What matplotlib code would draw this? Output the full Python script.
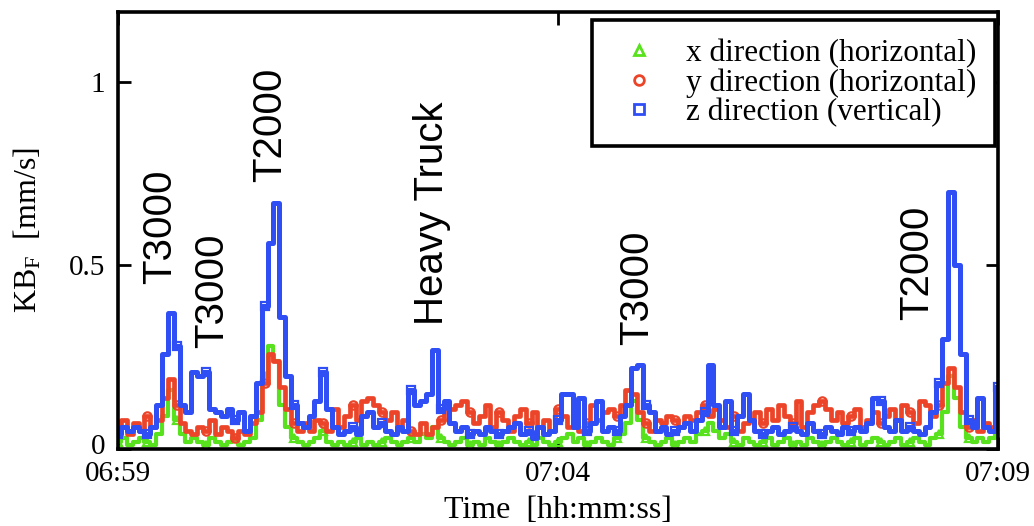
import numpy as np
import matplotlib
matplotlib.use("Agg")
import matplotlib.pyplot as plt
from matplotlib.lines import Line2D
from matplotlib.transforms import ScaledTranslation

# ---- data: KB_F velocity (mm/s), one sample every 4 s from 06:59:00 ----
step_s = 4
kb_x = [0.02, 0.03, 0.01, 0.02, 0.03, 0.02, 0.01, 0.04, 0.09, 0.16, 0.08, 0.04,
        0.02, 0.03, 0.02, 0.01, 0.03, 0.02, 0.01, 0.02, 0.03, 0.01, 0.02, 0.03,
        0.08, 0.20, 0.28, 0.24, 0.12, 0.06, 0.03, 0.02, 0.01, 0.02, 0.03, 0.05,
        0.02, 0.01, 0.02, 0.01, 0.02, 0.03, 0.01, 0.02, 0.01, 0.02, 0.03, 0.02,
        0.01, 0.02, 0.03, 0.02, 0.04, 0.03, 0.06, 0.03, 0.02, 0.01, 0.02, 0.03,
        0.01, 0.02, 0.01, 0.03, 0.02, 0.01, 0.02, 0.03, 0.02, 0.01, 0.02, 0.01,
        0.03, 0.02, 0.01, 0.02, 0.03, 0.04, 0.02, 0.03, 0.01, 0.02, 0.03, 0.02,
        0.01, 0.03, 0.04, 0.07, 0.13, 0.08, 0.03, 0.02, 0.01, 0.02, 0.03, 0.01,
        0.02, 0.03, 0.02, 0.04, 0.05, 0.07, 0.05, 0.03, 0.04, 0.02, 0.01, 0.03,
        0.02, 0.01, 0.02, 0.03, 0.01, 0.02, 0.03, 0.01, 0.02, 0.01, 0.03, 0.02,
        0.01, 0.02, 0.03, 0.02, 0.01, 0.02, 0.03, 0.01, 0.02, 0.03, 0.02, 0.01,
        0.02, 0.03, 0.01, 0.02, 0.03, 0.02, 0.01, 0.03, 0.04, 0.10, 0.20, 0.14,
        0.06, 0.03, 0.02, 0.03, 0.02, 0.03, 0.04]
kb_y = [0.05, 0.08, 0.04, 0.07, 0.05, 0.09, 0.06, 0.08, 0.14, 0.19, 0.12, 0.07,
        0.05, 0.04, 0.06, 0.05, 0.08, 0.04, 0.06, 0.05, 0.03, 0.05, 0.04, 0.07,
        0.10, 0.18, 0.26, 0.24, 0.17, 0.11, 0.07, 0.05, 0.07, 0.05, 0.08, 0.07,
        0.05, 0.11, 0.06, 0.09, 0.12, 0.08, 0.13, 0.14, 0.12, 0.10, 0.08, 0.10,
        0.06, 0.08, 0.05, 0.04, 0.07, 0.04, 0.06, 0.08, 0.12, 0.11, 0.12, 0.13,
        0.10, 0.07, 0.09, 0.12, 0.06, 0.10, 0.08, 0.05, 0.09, 0.11, 0.07, 0.10,
        0.06, 0.08, 0.05, 0.11, 0.09, 0.06, 0.08, 0.05, 0.07, 0.12, 0.08, 0.10,
        0.11, 0.09, 0.12, 0.16, 0.15, 0.10, 0.07, 0.05, 0.08, 0.07, 0.09, 0.08,
        0.06, 0.09, 0.08, 0.10, 0.12, 0.09, 0.11, 0.08, 0.06, 0.09, 0.05, 0.07,
        0.08, 0.10, 0.07, 0.11, 0.08, 0.12, 0.09, 0.07, 0.13, 0.06, 0.10, 0.12,
        0.13, 0.11, 0.08, 0.10, 0.07, 0.09, 0.11, 0.06, 0.08, 0.10, 0.07, 0.09,
        0.11, 0.08, 0.12, 0.10, 0.07, 0.13, 0.12, 0.09, 0.12, 0.18, 0.22, 0.17,
        0.10, 0.06, 0.08, 0.05, 0.07, 0.06, 0.09]
kb_z = [0.04, 0.06, 0.05, 0.06, 0.05, 0.04, 0.06, 0.12, 0.26, 0.37, 0.28, 0.12,
        0.10, 0.21, 0.20, 0.21, 0.11, 0.10, 0.09, 0.11, 0.08, 0.10, 0.05, 0.09,
        0.18, 0.39, 0.56, 0.67, 0.36, 0.20, 0.12, 0.07, 0.06, 0.09, 0.13, 0.21,
        0.11, 0.06, 0.04, 0.05, 0.06, 0.04, 0.09, 0.10, 0.06, 0.07, 0.05, 0.04,
        0.06, 0.05, 0.16, 0.12, 0.13, 0.15, 0.27, 0.11, 0.13, 0.07, 0.05, 0.06,
        0.04, 0.05, 0.04, 0.06, 0.05, 0.04, 0.05, 0.06, 0.07, 0.04, 0.05, 0.03,
        0.06, 0.04, 0.05, 0.08, 0.15, 0.15, 0.06, 0.14, 0.05, 0.07, 0.13, 0.05,
        0.06, 0.05, 0.09, 0.12, 0.22, 0.23, 0.12, 0.10, 0.05, 0.06, 0.04, 0.05,
        0.06, 0.07, 0.05, 0.08, 0.10, 0.23, 0.12, 0.06, 0.13, 0.05, 0.09, 0.15,
        0.08, 0.05, 0.04, 0.05, 0.06, 0.04, 0.05, 0.06, 0.05, 0.04, 0.07, 0.05,
        0.04, 0.06, 0.05, 0.04, 0.06, 0.05, 0.06, 0.05, 0.07, 0.14, 0.13, 0.06,
        0.05, 0.08, 0.05, 0.06, 0.05, 0.04, 0.06, 0.10, 0.18, 0.30, 0.70, 0.50,
        0.26, 0.08, 0.06, 0.14, 0.06, 0.05, 0.17]

series_labels = ["x direction (horizontal)", "y direction (horizontal)",
                 "z direction (vertical)"]
tick_seconds = [0, 300, 600]
tick_labels = ["06:59", "07:04", "07:09"]
y_ticks = [0, 0.5, 1]
y_tick_labels = ["0", "0.5", "1"]

# events: label, time (s), value at the foot of the rotated label
event_labels = ["T3000", "T3000", "T2000", "Heavy Truck", "T3000", "T2000"]
event_t = [29, 64, 104, 214, 354, 545]
event_v = [0.448, 0.276, 0.727, 0.339, 0.284, 0.352]

# ---- styling ----
plt.rcParams["mathtext.fontset"] = "custom"
plt.rcParams["mathtext.rm"] = "Liberation Serif"
plt.rcParams["mathtext.it"] = "Liberation Serif:italic"
serif = "Liberation Serif"

colors = ["#58e21e", "#ec4428", "#2f4ef4"]
markers = ["^", "o", "s"]
widths = [3.0, 3.4, 3.6]

fig = plt.figure(figsize=(10.34, 5.26), dpi=100)
ax = fig.add_axes([0.1141, 0.1464, 0.851, 0.8308])

t = np.arange(len(kb_z)) * step_s
for vals, c, m, w in zip([kb_x, kb_y, kb_z], colors, markers, widths):
    ax.plot(t, vals, color=c, lw=w, drawstyle="steps-mid", marker=m,
            markevery=5, ms=6, mfc="none", mec=c, mew=1.6)

ax.set_xlim(0, 600)
ax.set_ylim(0, 1.19)
ax.set_xticks(tick_seconds)
ax.set_xticklabels(tick_labels, fontsize=21, family=serif)
ax.set_yticks(y_ticks)
ax.set_yticklabels(y_tick_labels, fontsize=21, family=serif)
ax.tick_params(direction="in", length=9, width=2, top=True, right=True)
ax.tick_params(axis="x", pad=9)
ax.tick_params(axis="y", pad=9)
for s in ax.spines.values():
    s.set_linewidth(2.6)
# lift the "0" label a little so it clears the first time label
lab0 = ax.get_yticklabels()[0]
lab0.set_transform(lab0.get_transform() + ScaledTranslation(0, 5 / 100, fig.dpi_scale_trans))

ax.set_xlabel("Time  [hh:mm:ss]", fontsize=23, family=serif, labelpad=6)
ax.set_ylabel(r"KB$_{\mathrm{F}}$  [mm/s]", fontsize=23, family=serif)
ax.yaxis.set_label_coords(-0.085, 0.5)

for lab, et, ev in zip(event_labels, event_t, event_v):
    ax.text(et, ev, lab, rotation=90, ha="center", va="bottom",
            fontsize=29, family="Liberation Sans")

handles = [Line2D([], [], ls="none", marker=m, color=c, mfc="none", mew=2, ms=7)
           for c, m in zip(colors, markers)]
leg = ax.legend(handles, series_labels, loc="upper right",
                bbox_to_anchor=(995 / 1034, 1 - 20 / 526),
                bbox_transform=fig.transFigure, borderaxespad=0,
                prop={"family": serif, "size": 22.5}, frameon=True,
                fancybox=False, framealpha=1, edgecolor="black",
                handlelength=1.8, handletextpad=0.6, labelspacing=0.0,
                borderpad=0.6)
leg.get_frame().set_linewidth(2.6)

fig.savefig("out.png", dpi=100)
